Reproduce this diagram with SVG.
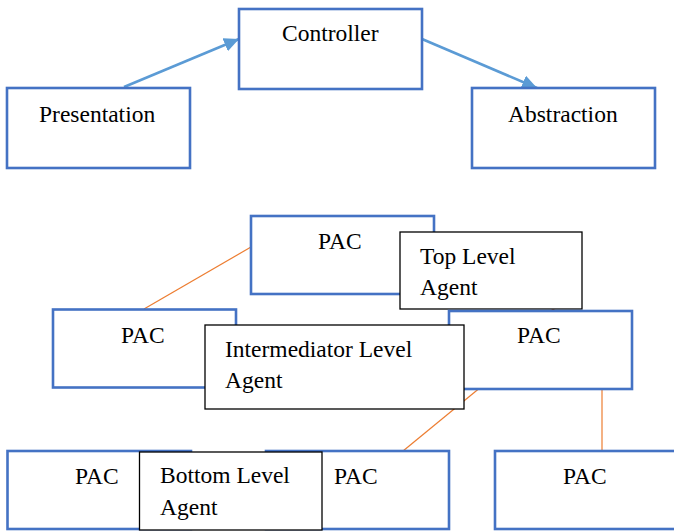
<svg xmlns="http://www.w3.org/2000/svg" width="674" height="531" viewBox="0 0 674 531">
<defs>
<marker id="ah" markerUnits="userSpaceOnUse" markerWidth="16" markerHeight="14" refX="15" refY="7" orient="auto">
<path d="M0,0 L15,7 L0,14 Z" fill="#5B9BD5"/>
</marker>
</defs>
<style>
.b{fill:#fff;stroke:#4472C4;stroke-width:2.6}
.k{fill:#fff;stroke:#000;stroke-width:1.3}
.t{font-family:"Liberation Serif","Times New Roman",serif;font-size:23.5px;fill:#000}
.a{stroke:#5B9BD5;stroke-width:2.6;fill:none}
.o{stroke:#ED7D31;stroke-width:1.2;fill:none}
</style>
<rect width="674" height="531" fill="#fff"/>
<g id="connectors">
<line class="a" x1="124" y1="87" x2="239" y2="39" marker-end="url(#ah)"/>
<line class="a" x1="422" y1="39" x2="537" y2="88" marker-end="url(#ah)"/>
<line class="o" x1="251" y1="247" x2="144" y2="309"/>
<line class="o" x1="433" y1="247" x2="556" y2="311"/>
<line class="o" x1="478.5" y1="389" x2="403" y2="451"/>
<line class="o" x1="602" y1="389" x2="602" y2="451"/>
</g>
<g id="controller"><rect class="b" x="239" y="9" width="183" height="80"/><text class="t" x="282" y="41">Controller</text></g>
<g id="presentation"><rect class="b" x="7" y="88" width="183" height="80"/><text class="t" x="39" y="121.5">Presentation</text></g>
<g id="abstraction"><rect class="b" x="472" y="88" width="183" height="80"/><text class="t" x="508" y="121.5">Abstraction</text></g>
<g id="pac-top"><rect class="b" x="251" y="216" width="183" height="78"/><text class="t" x="318" y="249">PAC</text></g>
<g id="top-level-agent"><rect class="k" x="400" y="232" width="182" height="77"/><text class="t" x="420" y="264">Top Level</text><text class="t" x="420" y="295">Agent</text></g>
<g id="pac-left"><rect class="b" x="53" y="309.5" width="183" height="78"/><text class="t" x="121" y="343">PAC</text></g>
<g id="pac-right"><rect class="b" x="449" y="311" width="183" height="78"/><text class="t" x="517" y="343">PAC</text></g>
<g id="intermediator-level-agent"><rect class="k" x="205" y="325" width="259" height="84"/><text class="t" x="225" y="357">Intermediator Level</text><text class="t" x="225" y="388">Agent</text></g>
<g id="pac-bottom-1"><rect class="b" x="7.5" y="451" width="183.5" height="78"/><text class="t" x="75" y="484">PAC</text></g>
<g id="pac-bottom-2"><rect class="b" x="266" y="451" width="183" height="78"/><text class="t" x="334" y="484">PAC</text></g>
<g id="bottom-level-agent"><rect class="k" x="139.5" y="452" width="182.5" height="78"/><text class="t" x="160" y="483">Bottom Level</text><text class="t" x="160" y="515">Agent</text></g>
<g id="pac-bottom-3"><rect class="b" x="495" y="451" width="183" height="78"/><text class="t" x="563" y="484">PAC</text></g>
</svg>
